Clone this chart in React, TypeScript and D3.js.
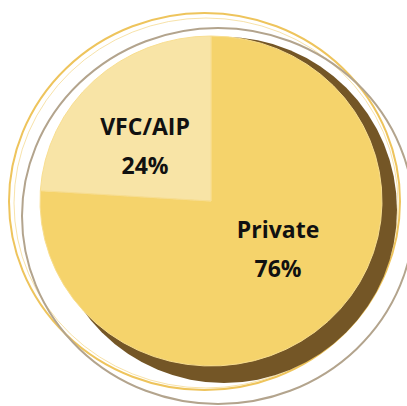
import React from "react";
import * as d3 from "d3";

const categories = ["Private", "VFC/AIP"];
const values = [76, 24];
const pctLabels = ["76%", "24%"];
const colors = ["#F5D36B", "#F8E4A6"];

const W = 407;
const H = 406;
const cx = 211;
const cy = 201;
const rx = 171;
const ry = 165;

export default function App() {
  const pie = d3.pie<number>().sort(null).startAngle(0).endAngle(2 * Math.PI);
  const arcs = pie(values);
  const arc = d3.arc<d3.PieArcDatum<number>>().innerRadius(0).outerRadius(rx);
  const labelPos = [
    { x: 278, y: 238 },
    { x: 145, y: 135 },
  ];
  return (
    <svg
      width={W}
      height={H}
      style={{ position: "absolute", left: 0, top: 0 }}
      fontFamily="'Open Sans', sans-serif"
    >
      <rect width={W} height={H} fill="#ffffff" />
      {/* outer decorative rings */}
      <ellipse cx={204.5} cy={201.5} rx={195.5} ry={188.5} fill="none" stroke="#EEC45C" strokeWidth={2} />
      <ellipse cx={206} cy={203} rx={192} ry={185} fill="none" stroke="#F3D585" strokeWidth={1} opacity={0.7} />
      <ellipse cx={218} cy={216} rx={196} ry={188} fill="none" stroke="#B3A48D" strokeWidth={2} />
      {/* shadow */}
      <ellipse cx={224} cy={210} rx={173} ry={173} fill="#745626" />
      {/* pie */}
      <g transform={`translate(${cx},${cy}) scale(1,${ry / rx})`}>
        {arcs.map((a, i) => (
          <path key={categories[i]} d={arc(a) || ""} fill={colors[i]} stroke="#F8DD8F" strokeWidth={1} />
        ))}
      </g>
      {/* labels */}
      {categories.map((c, i) => (
        <g key={c} fontWeight="bold" fontSize={23} fill="#111" textAnchor="middle">
          <text x={labelPos[i].x} y={labelPos[i].y}>{c}</text>
          <text x={labelPos[i].x} y={labelPos[i].y + 39}>{pctLabels[i]}</text>
        </g>
      ))}
    </svg>
  );
}
